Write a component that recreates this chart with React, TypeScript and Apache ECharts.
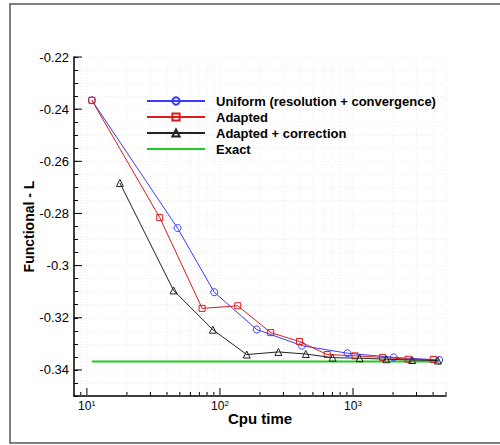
import React, { useEffect, useRef } from "react";
import * as echarts from "echarts";

const uniformX = [10.9, 48, 90.6, 189, 413, 910, 2023, 4446];
const uniformY = [-0.2366, -0.2856, -0.3102, -0.3245, -0.3307, -0.3336, -0.3352, -0.3362];
const adaptedX = [10.9, 35.3, 73.5, 136, 241, 396, 640, 1035, 1664, 2594, 4009];
const adaptedY = [-0.2366, -0.2816, -0.3164, -0.3154, -0.3257, -0.3291, -0.3341, -0.3346, -0.3352, -0.3359, -0.336];
const corrX = [17.7, 44.8, 88.5, 159, 275, 442, 702, 1122, 1783, 2786, 4345];
const corrY = [-0.2683, -0.3095, -0.3246, -0.3341, -0.3331, -0.3339, -0.3353, -0.3355, -0.3359, -0.3362, -0.3364];
const exactX = [10.9, 4446];
const exactY = [-0.3368, -0.3368];

const X_MIN = 8;
const X_MAX = 5000;
const Y_MIN = -0.35;
const Y_MAX = -0.22;
const xMajorTicks = [10, 100, 1000];
const xMinorTicks = [9, 20, 30, 40, 50, 60, 70, 80, 90, 200, 300, 400, 500, 600, 700, 800, 900, 2000, 3000, 4000, 5000];
const yMajorTicks = [-0.34, -0.32, -0.3, -0.28, -0.26, -0.24, -0.22];

const legendNames = [
  "Uniform (resolution + convergence)",
  "Adapted",
  "Adapted + correction",
  "Exact",
];

const BLUE = "#3a3aff";
const RED = "#e01a1a";
const BLACK = "#222222";
const GREEN = "#1ecc1e";
const FONT = "'Liberation Sans', Arial, sans-serif";

const zip = (xs: number[], ys: number[]) => xs.map((x, i) => [x, ys[i]]);

export default function App() {
  const ref = useRef<HTMLDivElement>(null);
  useEffect(() => {
    document.body.style.margin = "0";
    if (!ref.current) return;
    const chart = echarts.init(ref.current, null, { renderer: "svg" });
    const xTickData = [
      ...xMajorTicks.map((v) => [v, 1]),
      ...xMinorTicks.map((v) => [v, 0]),
    ];
    const option: any = {
      animation: false,
      backgroundColor: "#fff",
      textStyle: { fontFamily: FONT },
      graphic: [
        {
          type: "rect",
          shape: { x: 10, y: 4, width: 500, height: 439 },
          style: { fill: "none", stroke: "#555", lineWidth: 1.5 },
          silent: true,
        },
      ],
      grid: { left: 74, top: 57, right: 54, bottom: 49, containLabel: false },
      legend: {
        orient: "vertical",
        left: 141,
        top: 88,
        itemWidth: 58,
        itemHeight: 9,
        itemGap: 0,
        data: legendNames.map((n) =>
          n === "Exact"
            ? { name: n, icon: "path://M0,0H58V2H0Z", itemStyle: { color: GREEN } }
            : { name: n }
        ),
        textStyle: {
          fontFamily: FONT,
          fontSize: 13,
          fontWeight: "bold",
          color: "#000",
          lineHeight: 16,
          padding: [0, 0, 0, 6],
        },
      },
      xAxis: {
        type: "log",
        logBase: 10,
        min: X_MIN,
        max: X_MAX,
        name: "Cpu time",
        nameLocation: "middle",
        nameGap: 15,
        nameMoveOverlap: false,
        nameTextStyle: { fontFamily: FONT, fontSize: 15, fontWeight: "bold", color: "#000", verticalAlign: "top" },
        axisLine: { lineStyle: { color: "#000", width: 1.5 } },
        axisTick: { show: false },
        splitLine: { show: false },
        axisLabel: {
          margin: 3,
          color: "#000",
          formatter: (v: number) => {
            const l = Math.log10(v);
            if (Math.abs(l - Math.round(l)) < 1e-6) return "{b|10}{s|" + Math.round(l) + "}";
            return "";
          },
          rich: {
            b: { fontFamily: FONT, fontSize: 12, color: "#000" },
            s: { fontFamily: FONT, fontSize: 8, color: "#000", verticalAlign: "top", padding: [0, 0, 6, 0] },
          },
        },
      },
      yAxis: {
        type: "value",
        min: Y_MIN,
        max: Y_MAX,
        interval: 0.005,
        name: "Functional - L",
        nameLocation: "middle",
        nameGap: 38,
        nameMoveOverlap: false,
        nameTextStyle: { fontFamily: FONT, fontSize: 14, fontWeight: "bold", color: "#000" },
        axisLine: { lineStyle: { color: "#000", width: 1.5 } },
        axisTick: { inside: true, length: 4, lineStyle: { color: "#000", width: 1 } },
        splitLine: { show: true, lineStyle: { color: "#ededed", type: [1, 2], width: 1 } },
        axisLabel: {
          margin: 5,
          fontFamily: FONT,
          fontSize: 13,
          color: "#000",
          formatter: (v: number) => {
            const k = Math.round(v * 1000);
            if (k % 20 === 0) return String(Number(v.toFixed(3)));
            return "";
          },
        },
      },
      series: [
        {
          type: "custom",
          name: "xticks",
          silent: true,
          z: 1,
          clip: false,
          data: xTickData,
          renderItem: (params: any, api: any) => {
            const v = api.value(0);
            const major = api.value(1) === 1;
            const b = api.coord([v, Y_MIN]);
            const t = api.coord([v, Y_MAX]);
            const len = major ? 8 : 4;
            return {
              type: "group",
              children: [
                {
                  type: "line",
                  shape: { x1: b[0], y1: b[1], x2: t[0], y2: t[1] },
                  style: { stroke: "#ededed", lineWidth: 1, lineDash: [1, 2] },
                },
                {
                  type: "line",
                  shape: { x1: b[0], y1: b[1], x2: b[0], y2: b[1] - len },
                  style: { stroke: "#000", lineWidth: 1 },
                },
              ],
            };
          },
        },
        {
          type: "custom",
          name: "yticks",
          silent: true,
          z: 1,
          clip: false,
          data: yMajorTicks.map((v) => [X_MIN, v]),
          renderItem: (params: any, api: any) => {
            const p = api.coord([api.value(0), api.value(1)]);
            return {
              type: "line",
              shape: { x1: p[0], y1: p[1], x2: p[0] + 8, y2: p[1] },
              style: { stroke: "#000", lineWidth: 1 },
            };
          },
        },
        {
          type: "line",
          name: "Exact",
          data: zip(exactX, exactY),
          symbol: "none",
          z: 2,
          lineStyle: { color: GREEN, width: 2 },
          itemStyle: { color: GREEN },
        },
        {
          type: "line",
          name: "Uniform (resolution + convergence)",
          data: zip(uniformX, uniformY),
          symbol: "circle",
          symbolSize: 7,
          z: 3,
          lineStyle: { color: BLUE, width: 1 },
          itemStyle: { color: "rgba(255,255,255,0)", borderColor: BLUE, borderWidth: 1 },
        },
        {
          type: "line",
          name: "Adapted",
          data: zip(adaptedX, adaptedY),
          symbol: "rect",
          symbolSize: 6,
          z: 4,
          lineStyle: { color: RED, width: 1 },
          itemStyle: { color: "rgba(255,255,255,0)", borderColor: RED, borderWidth: 1 },
        },
        {
          type: "line",
          name: "Adapted + correction",
          data: zip(corrX, corrY),
          symbol: "triangle",
          symbolSize: 7,
          z: 5,
          lineStyle: { color: BLACK, width: 1 },
          itemStyle: { color: "rgba(255,255,255,0)", borderColor: BLACK, borderWidth: 1 },
        },
      ],
    };
    chart.setOption(option);
    return () => chart.dispose();
  }, []);
  return <div ref={ref} style={{ width: 500, height: 445 }} />;
}
